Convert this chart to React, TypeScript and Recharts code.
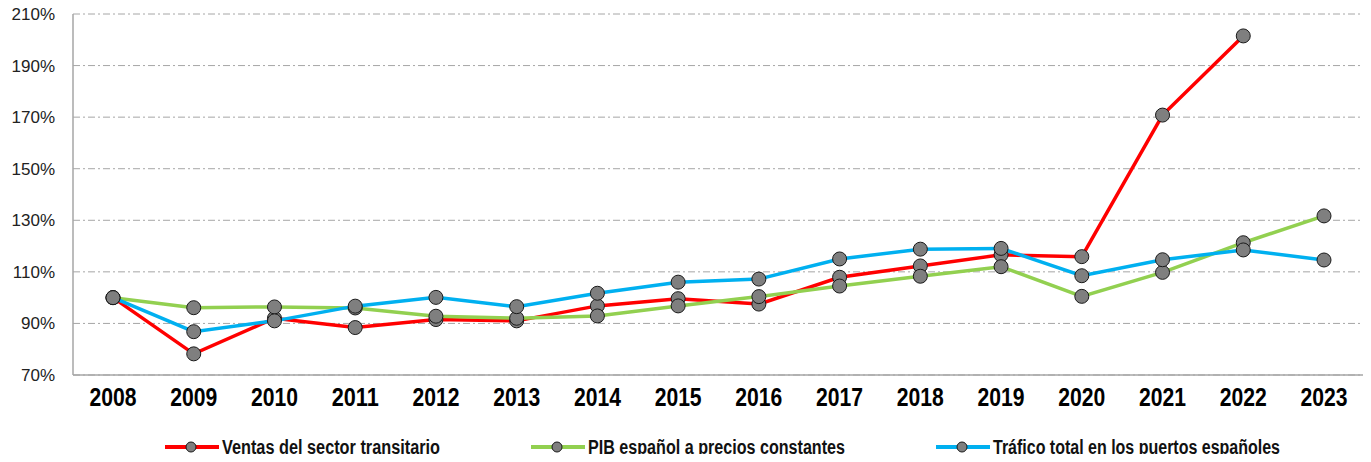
import React from 'react';
import { LineChart, Line, XAxis, YAxis, CartesianGrid, Legend } from 'recharts';

const YEARS = ['2008', '2009', '2010', '2011', '2012', '2013', '2014', '2015', '2016', '2017', '2018', '2019', '2020', '2021', '2022', '2023'];

// indices, 2008 = 100
const VENTAS = [100, 78.2, 92.0, 88.4, 91.5, 91.0, 96.8, 99.6, 97.5, 107.9, 112.3, 116.6, 115.9, 170.8, 201.5, null];
const PIB = [100, 96.1, 96.4, 96.0, 92.8, 92.0, 92.9, 96.8, 100.4, 104.5, 108.3, 112.0, 100.5, 109.8, 121.3, 131.7];
const TRAFICO = [100, 86.8, 91.0, 96.7, 100.1, 96.5, 101.7, 106.0, 107.2, 115.0, 118.8, 119.1, 108.5, 114.7, 118.5, 114.6];

const Y_TICKS = [70, 90, 110, 130, 150, 170, 190, 210];

const SERIES = [
  { key: 'ventas', name: 'Ventas del sector transitario', color: '#ff0000', textW: 218 },
  { key: 'pib', name: 'PIB español a precios constantes', color: '#92d050', textW: 257 },
  { key: 'trafico', name: 'Tráfico total en los puertos españoles', color: '#00b0f0', textW: 287 },
];

const data = YEARS.map((year, i) => ({
  year,
  ventas: VENTAS[i],
  pib: PIB[i],
  trafico: TRAFICO[i],
}));

const SANS = '"Liberation Sans", Arial, sans-serif';

const dotStyle = { r: 7, fill: '#7f7f7f', stroke: '#1a1a1a', strokeWidth: 1 };

// condensed bold year labels
const YearTick = ({ x, y, payload }: any) => (
  <text
    x={x}
    y={y}
    dy={17}
    textAnchor="middle"
    fill="#000"
    fontFamily={SANS}
    fontWeight="bold"
    fontSize={26}
    textLength={47}
    lengthAdjust="spacingAndGlyphs"
  >
    {payload.value}
  </text>
);

const renderLegend = () => (
  <div style={{ display: 'flex', alignItems: 'flex-start', paddingLeft: 164, gap: 88, height: 30 }}>
    {SERIES.map((s) => (
      <svg key={s.key} width={60 + s.textW} height={30} style={{ display: 'block', overflow: 'visible' }}>
        <line x1={1} y1={15} x2={55} y2={15} stroke={s.color} strokeWidth={4} />
        <circle cx={27} cy={15} r={5} fill="#7f7f7f" stroke="#1a1a1a" strokeWidth={1} />
        <text
          x={58}
          y={22}
          fontFamily={SANS}
          fontWeight="bold"
          fontSize={20}
          fill="#111"
          textLength={s.textW}
          lengthAdjust="spacingAndGlyphs"
        >
          {s.name}
        </text>
      </svg>
    ))}
  </div>
);

export default function App() {
  return (
    <div style={{ margin: -8, width: 1371, height: 462, background: '#fff', overflow: 'hidden' }}>
      <LineChart width={1371} height={462} data={data} margin={{ top: 14, right: 7, left: 0, bottom: 0 }}>
        <CartesianGrid vertical={false} stroke="#a6a6a6" strokeDasharray="7 3 2 3" />
        <XAxis
          dataKey="year"
          stroke="#a6a6a6"
          strokeWidth={1.5}
          tickLine={false}
          tickMargin={8}
          height={57}
          interval={0}
          padding={{ left: 40, right: 40 }}
          tick={<YearTick />}
        />
        <YAxis
          domain={[70, 210]}
          ticks={Y_TICKS}
          width={73}
          stroke="#a6a6a6"
          strokeWidth={1.5}
          tickLine={false}
          tickMargin={12}
          interval={0}
          tickFormatter={(v: number) => `${v}%`}
          tick={{ fill: '#222', fontFamily: SANS, fontSize: 17 }}
        />
        <Legend verticalAlign="bottom" height={30} content={renderLegend} />
        {SERIES.map((s) => (
          <Line
            key={s.key}
            type="linear"
            dataKey={s.key}
            name={s.name}
            stroke={s.color}
            strokeWidth={3.5}
            dot={dotStyle}
            activeDot={false}
            isAnimationActive={false}
          />
        ))}
      </LineChart>
    </div>
  );
}
